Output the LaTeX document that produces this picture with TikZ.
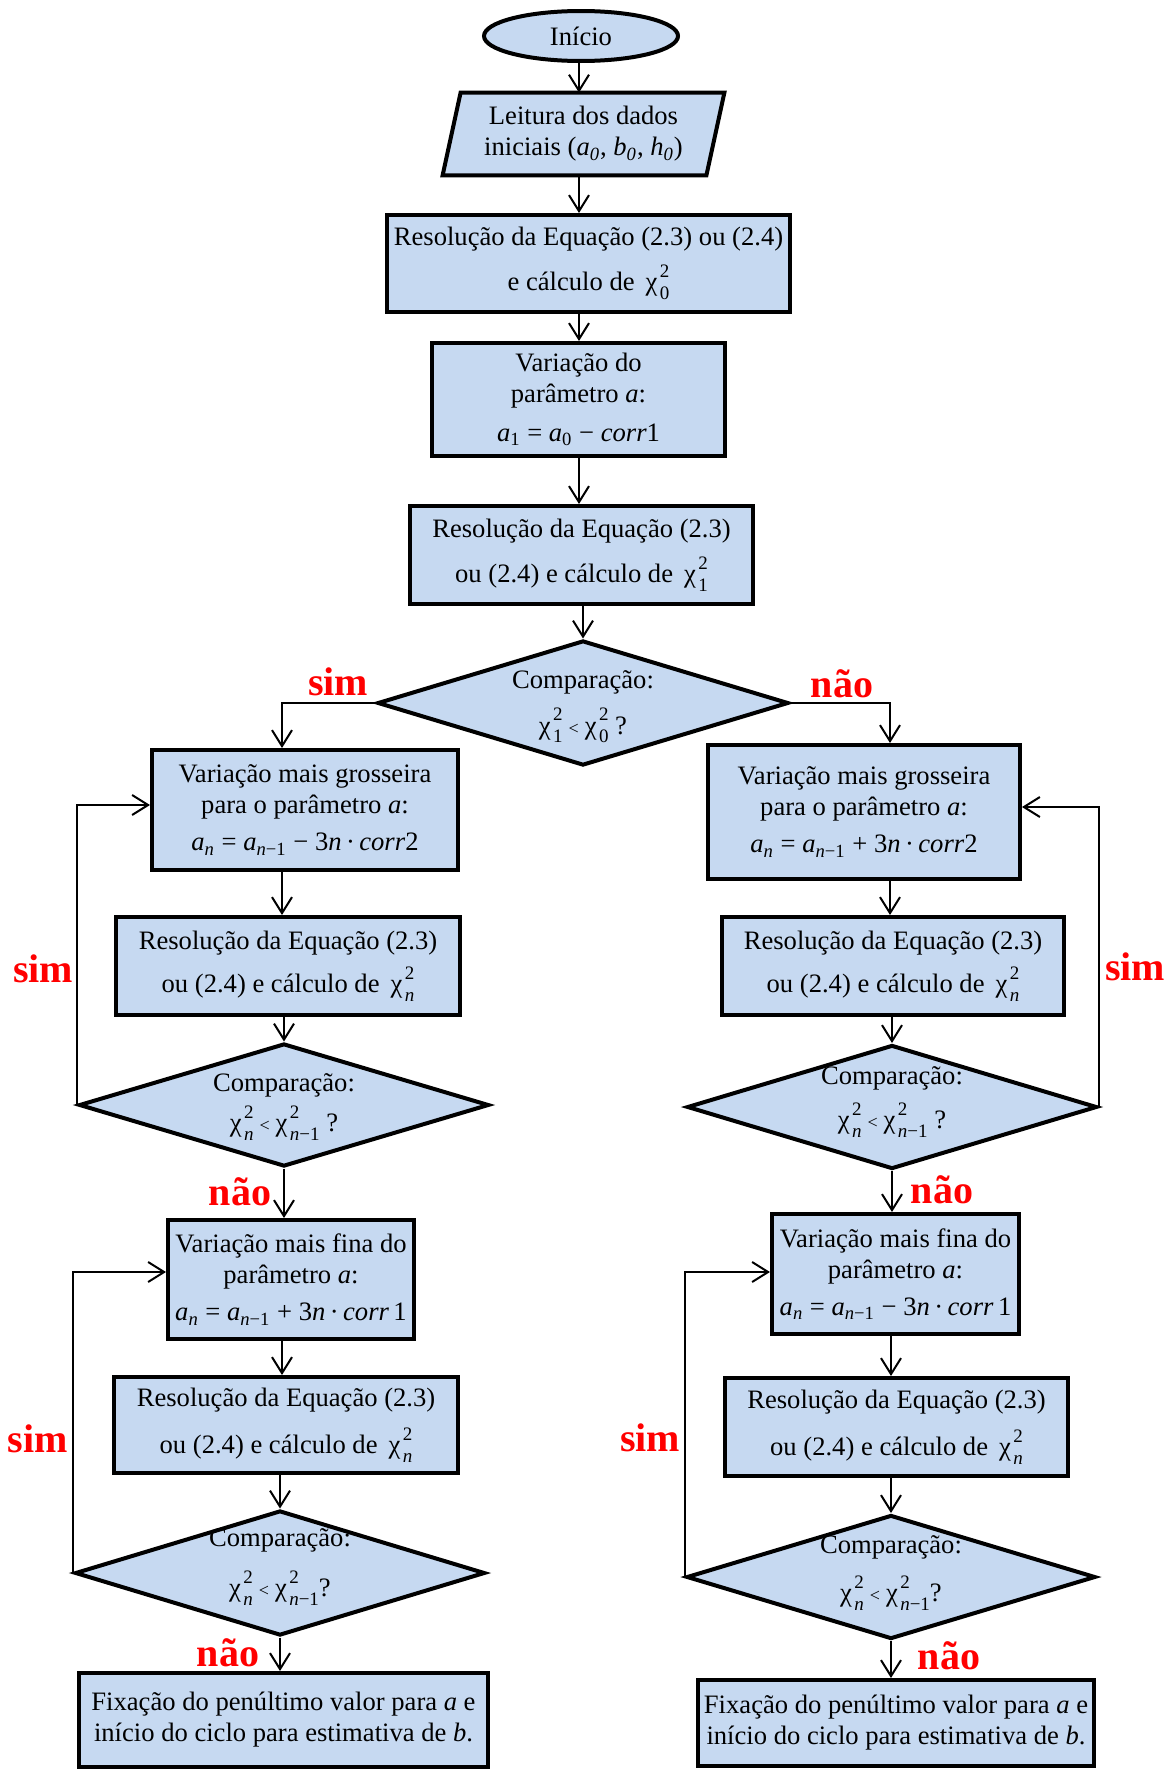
\documentclass[tikz,border=0pt]{standalone}
\usepackage{fontspec}
\setmainfont{Liberation Serif}
\usetikzlibrary{shapes.geometric,arrows.meta,backgrounds}
\definecolor{boxblue}{RGB}{198,217,241}
\definecolor{lblred}{RGB}{255,0,0}
\newcommand{\vi}[1]{\textit{#1}}
\newcommand{\scr}{\fontsize{9.5}{9.5}\selectfont}
\newcommand{\chisq}[1]{χ\kern1.2pt\rlap{\raisebox{6.5pt}{\scr 2}}\raisebox{-4.5pt}{\scr #1}}
\newcommand{\smlt}{\hspace{3pt}{\fontsize{9}{9}\selectfont <}\hspace{3pt}}
\newcommand{\an}{\vi{a}\textsubscript{\vi{n}}}
\newcommand{\anm}{\vi{a}\textsubscript{\vi{n}−1}}
\begin{document}
\begin{tikzpicture}[x=0.5pt,y=-0.5pt,
  sz/.style 2 args={minimum width=#1*0.5pt, minimum height=#2*0.5pt},
  base/.style={fill=boxblue, line width=2pt, align=center, font=\fontsize{13.3}{15.5}\selectfont, inner sep=1pt},
  box/.style={base, draw, rectangle},
  dia/.style={base, draw, diamond, inner sep=0pt},
  term/.style={base, draw, ellipse, inner sep=0pt},
  txt/.style={align=center, font=\fontsize{13.3}{15.5}\selectfont, inner sep=0pt},
  arr/.style={line width=1pt, -{Straight Barb[length=8pt,width=10pt,line width=1pt]}},
  yes/.style={text=lblred, font=\fontsize{20}{20}\selectfont\bfseries, inner sep=0pt}]
\useasboundingbox (0,0) rectangle (1176,1772);

% top spine
\node[term, sz={194}{50}] (start) at (581,36) {Início};
\node[txt, sz={245}{82}] (read) at (583.5,134) {Leitura dos dados\\ iniciais (\vi{a}\textsubscript{\vi{0}}, \vi{b}\textsubscript{\vi{0}}, \vi{h}\textsubscript{\vi{0}})};
\begin{scope}[on background layer]
  \fill[white] (0,0) rectangle (1176,1772);
  \draw[base] ([xshift=-9pt]read.south west) -- (read.north west) -- ([xshift=9pt]read.north east) -- (read.south east) -- cycle;
\end{scope}
\node[box, sz={403}{97}] (b1) at (588.5,263.5) {Resolução da Equação (2.3) ou (2.4)\\[6pt] e cálculo de\ \,\chisq{0}};
\node[box, sz={293}{113}] (b2) at (578.5,399.5) {Variação do\\ parâmetro \vi{a}:\\[4pt] \vi{a}\textsubscript{1} = \vi{a}\textsubscript{0} − \vi{corr}1};
\node[box, sz={343}{98}] (b3) at (581.5,555) {Resolução da Equação (2.3)\\[6pt] ou (2.4) e cálculo de\ \,\chisq{1}};
\node[dia, sz={411}{125}] (d1) at (583,703) {};
\node[txt] (d1t) at (583,707) {Comparação:\\[6pt] \chisq{1}\smlt\chisq{0} ?};

% left branch
\node[box, sz={306}{120}] (l1) at (305,810) {Variação mais grosseira\\ para o parâmetro \vi{a}:\\[3pt] \an{} = \anm{} − 3\vi{n}\,·\,\vi{corr}2};
\node[box, sz={344}{98}] (l2) at (288,966) {Resolução da Equação (2.3)\\[5pt] ou (2.4) e cálculo de\ \,\chisq{\vi{n}}};
\node[dia, sz={410}{123}] (dl1) at (284,1105) {};
\node[txt] (dl1t) at (284,1107) {Comparação:\\[3pt] \chisq{\vi{n}}\smlt\chisq{\vi{n}−1} ?};
\node[box, sz={246}{119}] (l3) at (291,1279.5) {Variação mais fina do\\ parâmetro \vi{a}:\\[3pt] \an{} = \anm{} + 3\vi{n}\,·\,\vi{corr}\,1};
\node[box, sz={344}{96}] (l4) at (286,1425) {Resolução da Equação (2.3)\\[7pt] ou (2.4) e cálculo de\ \,\chisq{\vi{n}}};
\node[dia, sz={410}{125}] (dl2) at (280,1573) {};
\node[txt] (dl2t) at (280,1567) {Comparação:\\[8pt] \chisq{\vi{n}}\smlt\chisq{\vi{n}−1}?};
\node[box, sz={409}{94}] (lf) at (283.5,1720) {Fixação do penúltimo valor para \vi{a} e\\ início do ciclo para estimativa de \vi{b}.};

% right branch
\node[box, sz={312}{134}] (r1) at (864,812) {Variação mais grosseira\\ para o parâmetro \vi{a}:\\[3pt] \an{} = \anm{} + 3\vi{n}\,·\,\vi{corr}2};
\node[box, sz={342}{98}] (r2) at (893,966) {Resolução da Equação (2.3)\\[5pt] ou (2.4) e cálculo de\ \,\chisq{\vi{n}}};
\node[dia, sz={410}{124}] (dr1) at (892,1107) {};
\node[txt] (dr1t) at (892,1102) {Comparação:\\[5pt] \chisq{\vi{n}}\smlt\chisq{\vi{n}−1} ?};
\node[box, sz={247}{120}] (r3) at (895.5,1274) {Variação mais fina do\\ parâmetro \vi{a}:\\[3pt] \an{} = \anm{} − 3\vi{n}\,·\,\vi{corr}\,1};
\node[box, sz={343}{98}] (r4) at (896.5,1427) {Resolução da Equação (2.3)\\[7pt] ou (2.4) e cálculo de\ \,\chisq{\vi{n}}};
\node[dia, sz={409}{124}] (dr2) at (891,1577) {};
\node[txt] (dr2t) at (891,1573) {Comparação:\\[7pt] \chisq{\vi{n}}\smlt\chisq{\vi{n}−1}?};
\node[box, sz={396}{86}] (rf) at (896,1723) {Fixação do penúltimo valor para \vi{a} e\\ início do ciclo para estimativa de \vi{b}.};

% labels
\node[yes] (s0) at (338,682) {sim};
\node[yes] (n0) at (842,684) {não};
\node[yes] (s1) at (43,969) {sim};
\node[yes] (n1) at (240,1192) {não};
\node[yes] (s2) at (38,1439) {sim};
\node[yes] (n2) at (228,1653) {não};
\node[yes] (s3) at (1135,967) {sim};
\node[yes] (n3) at (942,1190) {não};
\node[yes] (s4) at (650,1438) {sim};
\node[yes] (n4) at (949,1656) {não};

% connectors
\coordinate (cx) at (579,0);
\coordinate (lx) at (282,0);
\coordinate (rx) at (890,0);
\draw[arr] (start.south -| cx) -- (read.north -| cx);
\draw[arr] (read.south -| cx) -- (b1.north -| cx);
\draw[arr] (b1.south -| cx) -- (b2.north -| cx);
\draw[arr] (b2.south -| cx) -- (b3.north -| cx);
\draw[arr] (b3.south -| d1.north) -- (d1.north);
\draw[arr] (d1.west) -| (l1.north -| lx);
\draw[arr] (d1.east) -| (r1.north -| rx);
\draw[arr] (l1.south -| lx) -- (l2.north -| lx);
\draw[arr] (l2.south -| dl1.north) -- (dl1.north);
\draw[arr] (dl1.south) -- (l3.north -| dl1.south);
\draw[arr] (l3.south -| lx) -- (l4.north -| lx);
\draw[arr] (l4.south -| dl2.north) -- (dl2.north);
\draw[arr] (dl2.south) -- (lf.north -| dl2.south);
\draw[arr] (dl1.west) |- ([yshift=2.5pt]l1.west);
\draw[arr] (dl2.west) |- ([yshift=3.75pt]l3.west);
\draw[arr] (r1.south -| rx) -- (r2.north -| rx);
\draw[arr] (r2.south -| dr1.north) -- (dr1.north);
\draw[arr] (dr1.south) -- (r3.north -| dr1.south);
\draw[arr] (r3.south -| dr2.north) -- (r4.north -| dr2.north);
\draw[arr] (r4.south -| dr2.north) -- (dr2.north);
\draw[arr] (dr2.south) -- (rf.north -| dr2.south);
\draw[arr] (dr1.east) |- ([yshift=2.5pt]r1.east);
\draw[arr] (dr2.west) |- ([yshift=1pt]r3.west);
\end{tikzpicture}
\end{document}
